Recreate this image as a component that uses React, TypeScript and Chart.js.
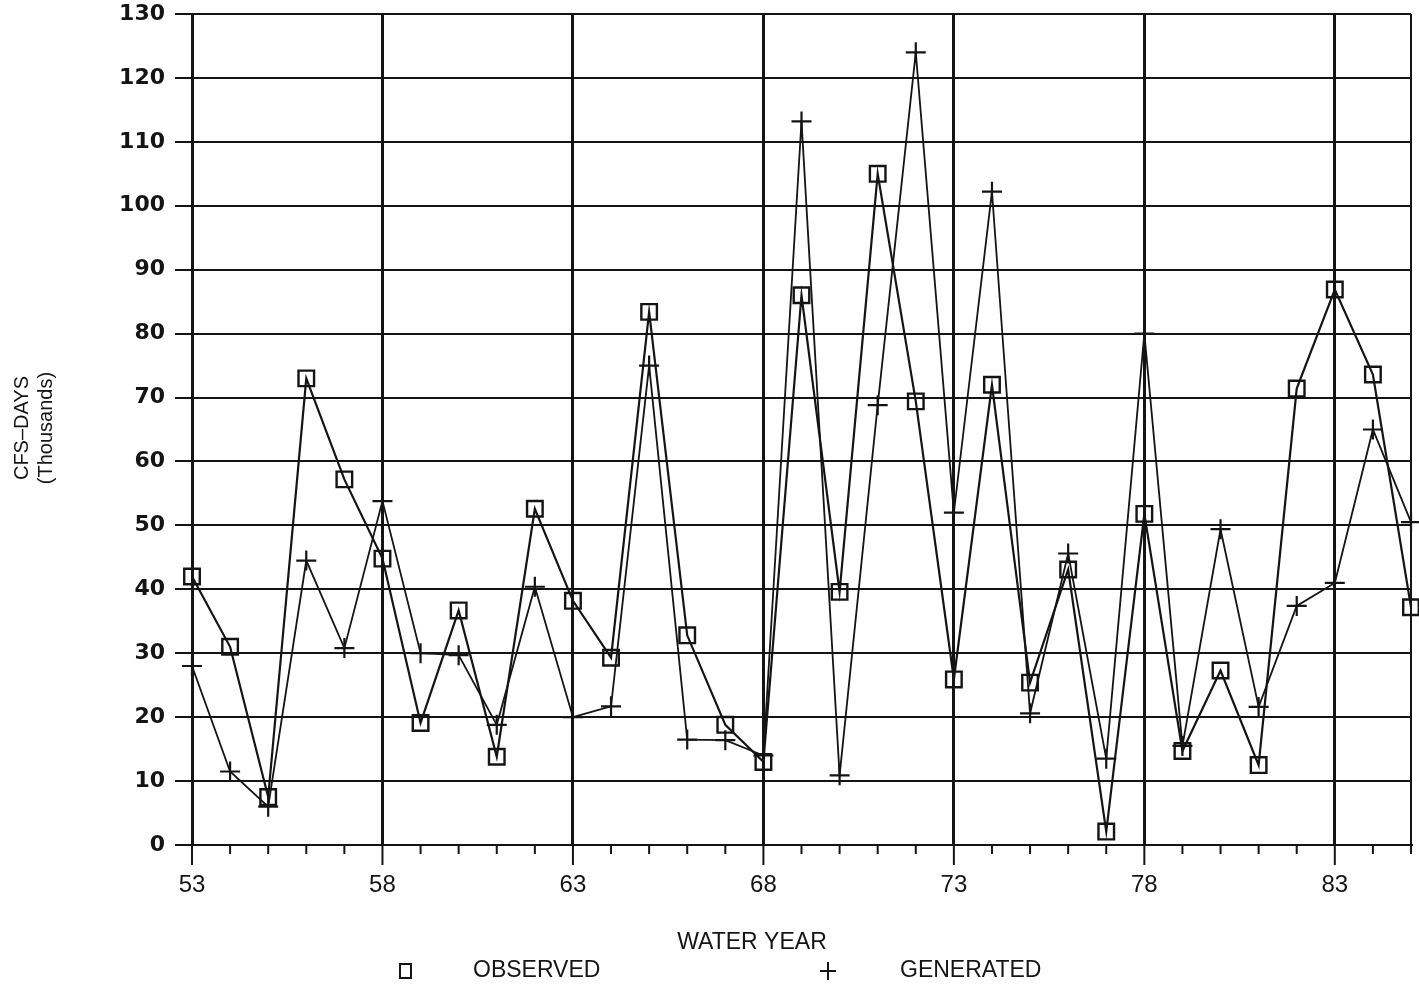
import React, { useEffect, useRef } from "react";
import { Chart, registerables } from "chart.js";

Chart.register(...registerables);

const YEARS = [53,54,55,56,57,58,59,60,61,62,63,64,65,66,67,68,69,70,71,72,73,74,75,76,77,78,79,80,81,82,83,84,85];
const OBSERVED = [42,31,7.5,73,57.2,44.8,19.1,36.7,13.8,52.6,38.2,29.3,83.4,32.8,18.8,13,86,39.6,105,69.4,25.9,72,25.4,43.1,2.1,51.8,14.7,27.3,12.5,71.4,86.9,73.6,37.2];
const GENERATED = [28,11.5,6,44.5,30.8,53.8,30,29.7,18.8,40.4,20,21.7,75,16.5,16.4,14,113.2,10.9,68.8,124,52,102.2,20.6,45.6,13.5,80,15.5,49.4,21.6,37.4,41,65,50.5];
const X_MIN = 53;
const X_MAX = 85;
const X_MAJOR_STEP = 5;
const Y_MIN = 0;
const Y_MAX = 130;
const Y_STEP = 10;
const Y_TITLE = ["CFS\u2013DAYS", "(Thousands)"];
const X_TITLE = "WATER YEAR";
const LEGEND_LABELS = ["OBSERVED", "GENERATED"];

const INK = "#141414";

const decor = {
  id: "decor",
  afterDraw(chart: any) {
    const { ctx, chartArea, scales } = chart;
    const x = scales.x;
    ctx.save();
    ctx.strokeStyle = INK;
    ctx.lineWidth = 2;
    for (let v = X_MIN; v <= X_MAX; v++) {
      const px = x.getPixelForValue(v);
      const major = (v - X_MIN) % X_MAJOR_STEP === 0;
      const len = major ? 20 : 9;
      ctx.beginPath();
      ctx.moveTo(px, chartArea.bottom);
      ctx.lineTo(px, chartArea.bottom + len);
      ctx.stroke();
    }
    ctx.fillStyle = INK;
    // y title
    ctx.save();
    ctx.font = '20px "Liberation Sans", Arial, sans-serif';
    ctx.textAlign = "center";
    ctx.textBaseline = "middle";
    ctx.translate(22, 428);
    ctx.rotate(-Math.PI / 2);
    ctx.fillText(Y_TITLE[0], 0, 0);
    ctx.fillText(Y_TITLE[1], 0, 24);
    ctx.restore();
    // x title
    ctx.font = '23px "Liberation Sans", Arial, sans-serif';
    ctx.textAlign = "center";
    ctx.textBaseline = "middle";
    ctx.fillText(X_TITLE, 752, 943);
    // legend
    ctx.textAlign = "left";
    ctx.lineWidth = 2;
    ctx.strokeRect(400, 964, 11, 14);
    ctx.fillText(LEGEND_LABELS[0], 473, 971);
    ctx.beginPath();
    ctx.moveTo(820, 971);
    ctx.lineTo(836, 971);
    ctx.moveTo(828, 962);
    ctx.lineTo(828, 980);
    ctx.stroke();
    ctx.fillText(LEGEND_LABELS[1], 900, 971);
    ctx.restore();
  },
};

export default function App() {
  const canvasRef = useRef<HTMLCanvasElement | null>(null);

  useEffect(() => {
    document.body.style.margin = "0";
    const canvas = canvasRef.current;
    if (!canvas) return;
    const obsData = YEARS.map((yr, i) => ({ x: yr, y: OBSERVED[i] }));
    const genData = YEARS.map((yr, i) => ({ x: yr, y: GENERATED[i] }));
    const chart = new Chart(canvas, {
      type: "line",
      data: {
        datasets: [
          {
            label: LEGEND_LABELS[0],
            data: obsData,
            borderColor: INK,
            borderWidth: 2.2,
            pointStyle: "rect",
            pointRadius: 11,
            pointBorderWidth: 2.4,
            pointBorderColor: INK,
            pointBackgroundColor: "rgba(0,0,0,0)",
            tension: 0,
            clip: false as any,
          },
          {
            label: LEGEND_LABELS[1],
            data: genData,
            borderColor: INK,
            borderWidth: 1.8,
            pointStyle: "cross",
            pointRadius: 10,
            pointBorderWidth: 2.2,
            pointBorderColor: INK,
            pointBackgroundColor: INK,
            tension: 0,
            clip: false as any,
          },
        ],
      },
      options: {
        animation: false,
        responsive: false,
        maintainAspectRatio: false,
        layout: { autoPadding: false, padding: { top: 14, right: 8, left: 0, bottom: 0 } },
        plugins: {
          legend: { display: false },
          tooltip: { enabled: false },
          title: { display: false },
        },
        scales: {
          x: {
            type: "linear",
            min: X_MIN,
            max: X_MAX,
            afterFit(scale: any) {
              scale.height = 145;
              scale.paddingLeft = 0;
              scale.paddingRight = 0;
            },
            ticks: {
              stepSize: 1,
              autoSkip: false,
              maxRotation: 0,
              padding: 26,
              color: INK,
              font: { family: '"Liberation Sans", Arial, sans-serif', size: 24 },
              callback: (v: any) => ((Number(v) - X_MIN) % X_MAJOR_STEP === 0 ? String(v) : ""),
            },
            grid: {
              drawTicks: false,
              color: (c: any) => {
                const v = c.tick ? c.tick.value : 0;
                return (v - X_MIN) % X_MAJOR_STEP === 0 || v === X_MAX ? INK : "rgba(0,0,0,0)";
              },
              lineWidth: (c: any) => {
                const v = c.tick ? c.tick.value : 0;
                return v === X_MAX ? 2 : 3;
              },
            },
            border: { display: true, color: INK, width: 2 },
          },
          y: {
            type: "linear",
            min: Y_MIN,
            max: Y_MAX,
            afterFit(scale: any) {
              scale.width = 192;
              scale.paddingTop = 0;
              scale.paddingBottom = 0;
            },
            ticks: {
              stepSize: Y_STEP,
              padding: 10,
              color: INK,
              font: { family: '"DejaVu Sans", sans-serif', size: 22, weight: "bold" },
            },
            grid: {
              color: INK,
              lineWidth: 2,
              tickLength: 17,
              tickColor: INK,
              tickWidth: 2,
            },
            border: { display: true, color: INK, width: 3 },
          },
        },
      },
      plugins: [decor],
    });
    return () => chart.destroy();
  }, []);

  return (
    <div style={{ width: 1419, height: 990, background: "#fff", overflow: "hidden" }}>
      <canvas ref={canvasRef} width={1419} height={990} style={{ display: "block" }} />
    </div>
  );
}
